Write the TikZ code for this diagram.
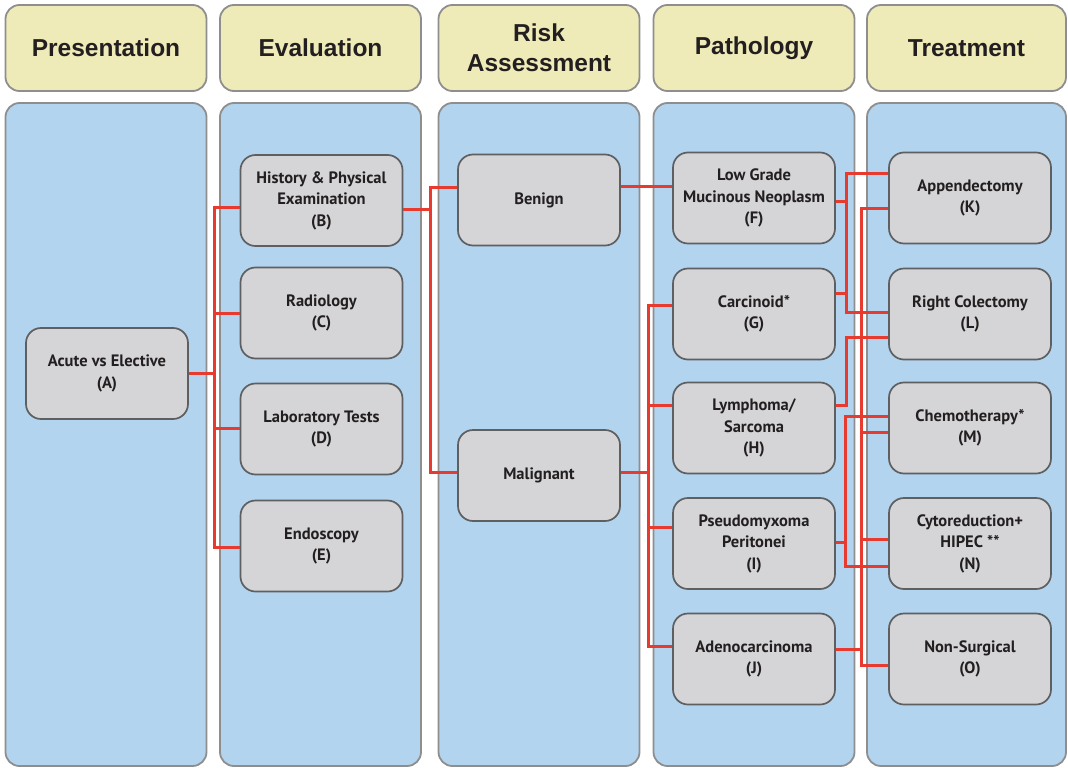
\documentclass[tikz,border=0pt]{standalone}
\usepackage{fontspec}
\setmainfont{PT Sans}
\newfontfamily\hfont{Liberation Sans}
\definecolor{hdrfill}{HTML}{EEEBB9}
\definecolor{hdrborder}{HTML}{8E8E8E}
\definecolor{panelfill}{HTML}{B2D4EE}
\definecolor{panelborder}{HTML}{8E8E8E}
\definecolor{boxfill}{HTML}{D5D5D7}
\definecolor{boxborder}{HTML}{5E5F61}
\definecolor{linkred}{HTML}{E63B2E}
\definecolor{textc}{HTML}{231F20}
\begin{document}
\begin{tikzpicture}[x=1pt,y=-1pt,
  hdr/.style={draw=hdrborder, fill=hdrfill, line width=1.8pt, rounded corners=14pt,
    minimum width=201pt, minimum height=86pt, inner sep=0pt,
    font=\hfont\bfseries\fontsize{24.5}{30}\selectfont, align=center, text=textc},
  panel/.style={draw=panelborder, fill=panelfill, line width=1.8pt, rounded corners=14pt,
    minimum width=201pt, minimum height=663pt, inner sep=0pt},
  box/.style={draw=boxborder, fill=boxfill, line width=1.7pt, rounded corners=15pt,
    minimum width=162pt, minimum height=91pt, inner sep=1pt,
    font=\bfseries\fontsize{16.5}{21.5}\selectfont, align=center, text=textc},
  link/.style={draw=linkred, line width=3pt}]
\useasboundingbox (0,0) rectangle (1068,768);

% headers
\node[hdr] (h1) at (106,48) {Presentation};
\node[hdr] (h2) at (320.5,48) {Evaluation};
\node[hdr] (h3) at (539,48) {Risk\\Assessment};
\node[hdr] (h4) at (754,48) {Pathology};
\node[hdr, minimum width=199pt] (h5) at (966.5,48) {Treatment};

% panels
\node[panel] (p1) at (106,434.5) {};
\node[panel] (p2) at (320.5,434.5) {};
\node[panel] (p3) at (539,434.5) {};
\node[panel] (p4) at (754,434.5) {};
\node[panel, minimum width=199pt] (p5) at (966.5,434.5) {};

% boxes
\node[box] (A) at (107,373.5) {Acute vs Elective\\(A)};
\node[box] (B) at (321.5,200.5) {History \& Physical\\Examination\\(B)};
\node[box] (C) at (321.5,313) {Radiology\\(C)};
\node[box] (D) at (321.5,429) {Laboratory Tests\\(D)};
\node[box] (E) at (321.5,546) {Endoscopy\\(E)};
\node[box] (Ben) at (539,200) {Benign};
\node[box] (Mal) at (539,475.5) {Malignant};
\node[box] (F) at (754,198) {Low Grade\\Mucinous Neoplasm\\(F)};
\node[box] (G) at (754,314) {Carcinoid*\\(G)};
\node[box] (H) at (754,428) {Lymphoma/\\Sarcoma\\(H)};
\node[box] (I) at (754,543.5) {Pseudomyxoma\\Peritonei\\(I)};
\node[box] (J) at (754,659) {Adenocarcinoma\\(J)};
\node[box] (K) at (970,198) {Appendectomy\\(K)};
\node[box] (L) at (970,314) {Right Colectomy\\(L)};
\node[box] (M) at (970,428) {Chemotherapy*\\(M)};
\node[box] (N) at (970,543.5) {Cytoreduction+\\HIPEC **\\(N)};
\node[box] (O) at (970,659) {Non-Surgical\\(O)};

% Presentation -> Evaluation
\draw[link] (A.east) -- (214,373.5);
\draw[link] ([yshift=-6.5pt]B.west) -| (214,547) -- ([yshift=-1pt]E.west);
\draw[link] (C.west) -- (214,313);
\draw[link] ([yshift=1pt]D.west) -- (214,428);

% Evaluation -> Risk
\draw[link] ([yshift=-8.5pt]B.east) -- (430,209);
\draw[link] ([yshift=13pt]Ben.west) -| (430,472) -- ([yshift=3.5pt]Mal.west);

% Risk -> Pathology
\draw[link] ([yshift=14pt]Ben.east) -- ([yshift=12pt]F.west);
\draw[link] ([yshift=3.5pt]Mal.east) -- (648,472);
\draw[link] ([yshift=9pt]G.west) -| (648,646) -- ([yshift=13pt]J.west);
\draw[link] ([yshift=23pt]H.west) -- (648,405);
\draw[link] ([yshift=16.5pt]I.west) -- (648,527);

% Pathology -> Treatment
\draw[link] ([yshift=-3pt]F.east) -- (846,201);
\draw[link] ([yshift=25pt]K.west) -| (846,312) -- ([yshift=2pt]L.west);
\draw[link] ([yshift=21pt]G.east) -- (846,293);
\draw[link] ([yshift=23pt]H.east) -| (846,337) -- ([yshift=-23pt]L.west);
\draw[link] ([yshift=1.5pt]I.east) -- (845,542);
\draw[link] ([yshift=12pt]M.west) -| (845,566) -- ([yshift=-22.5pt]N.west);
\draw[link] ([yshift=10pt]J.east) -- (861,649);
\draw[link] ([yshift=-10pt]K.west) -| (861,665) -- ([yshift=-6pt]O.west);
\draw[link] ([yshift=-4pt]M.west) -- (861,432);
\draw[link] ([yshift=4.5pt]N.west) -- (861,539);
\end{tikzpicture}
\end{document}
